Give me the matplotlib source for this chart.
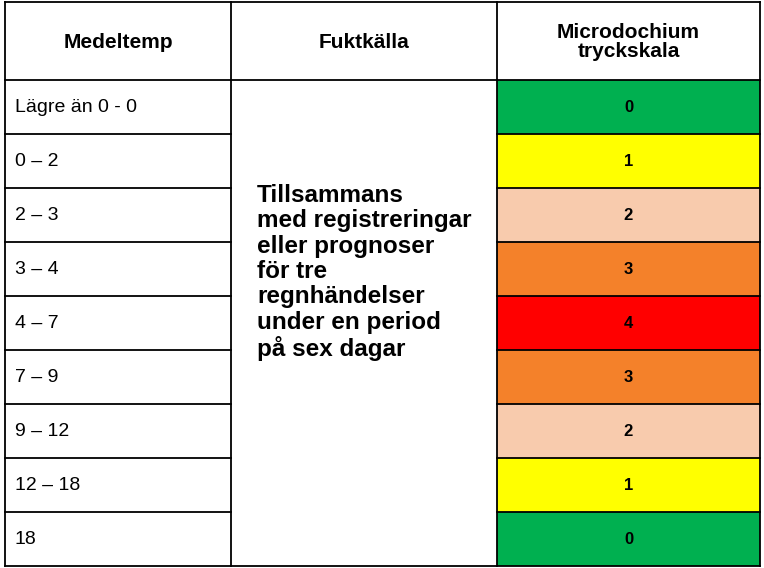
import matplotlib
matplotlib.use("Agg")
import matplotlib.pyplot as plt
from matplotlib.patches import Rectangle

headers = ["Medeltemp", "Fuktkälla", "Microdochium\ntryckskala"]
temps = ["Lägre än 0 - 0", "0 – 2", "2 – 3", "3 – 4", "4 – 7", "7 – 9", "9 – 12", "12 – 18", "18"]
pressure = [0, 1, 2, 3, 4, 3, 2, 1, 0]
middle_text = ("Tillsammans\nmed registreringar\neller prognoser\nför tre\n"
               "regnhändelser\nunder en period\npå sex dagar")
level_colors = {0: "#00b050", 1: "#ffff00", 2: "#f8cbad", 3: "#f4812a", 4: "#ff0000"}

W, H = 764, 568
fig = plt.figure(figsize=(W/100, H/100), dpi=100)
ax = fig.add_axes([0, 0, 1, 1])
ax.set_xlim(0, W); ax.set_ylim(H, 0); ax.axis("off")
plt.rcParams['font.family'] = ['Liberation Sans', 'DejaVu Sans']

cols = [5, 231, 497, 760]
top, head_bot = 2, 80
rh = 54.0
lw = 1.3

for i, h in enumerate(headers):
    ax.text((cols[i]+cols[i+1])/2, (top+head_bot)/2 + 1, h,
            ha="center", va="center", fontsize=15, fontweight="bold", linespacing=0.95)

for r, (t, p) in enumerate(zip(temps, pressure)):
    y0 = head_bot + r*rh
    ax.add_patch(Rectangle((cols[2], y0), cols[3]-cols[2], rh, facecolor=level_colors[p],
                           edgecolor="none"))
    ax.text(cols[0]+10, y0+rh/2, t, ha="left", va="center", fontsize=14)
    ax.text((cols[2]+cols[3])/2, y0+rh/2, str(p), ha="center", va="center",
            fontsize=12, fontweight="bold")
    ax.plot([cols[0], cols[1]], [y0, y0], color="black", lw=lw)
    ax.plot([cols[2], cols[3]], [y0, y0], color="black", lw=lw)

bottom = head_bot + len(temps)*rh
ax.plot([cols[0], cols[3]], [top, top], color="black", lw=lw)
ax.plot([cols[0], cols[3]], [bottom, bottom], color="black", lw=lw)
ax.plot([cols[1], cols[2]], [head_bot, head_bot], color="black", lw=lw)
for x in cols:
    ax.plot([x, x], [top, bottom], color="black", lw=lw)

ax.text(cols[1]+26, 184, middle_text, ha="left", va="top", fontsize=17.5,
        fontweight="bold", linespacing=1.13)

fig.savefig("out.png", dpi=100)
